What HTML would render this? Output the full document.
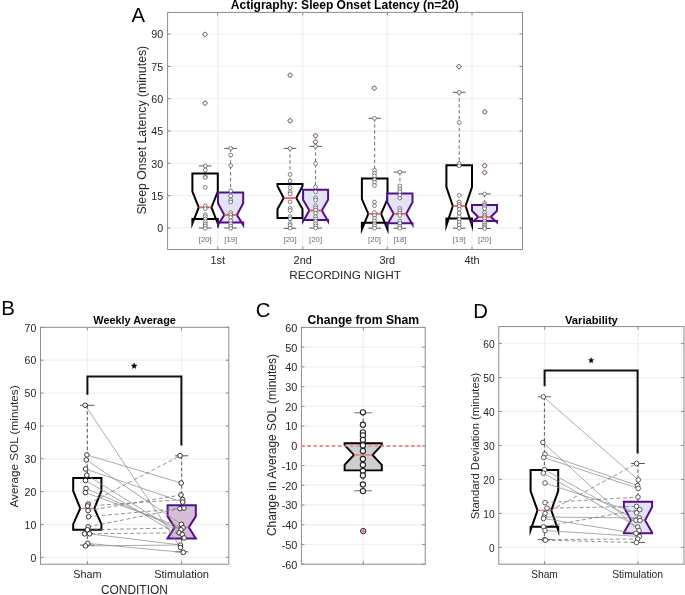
<!DOCTYPE html>
<html><head><meta charset="utf-8"><style>
html,body{margin:0;padding:0;background:#fff;}
body{width:685px;height:595px;overflow:hidden;}
svg{display:block;filter:blur(0.3px);}
text{font-family:"Liberation Sans", sans-serif;}
</style></head><body>
<svg width="685" height="595" viewBox="0 0 685 595" font-family='"Liberation Sans", sans-serif'>
<rect width="685" height="595" fill="#fff"/>
<line x1="167.6" y1="227.95" x2="522.5" y2="227.95" stroke="#f1f1f1" stroke-width="1.3" />
<line x1="167.6" y1="195.63" x2="522.5" y2="195.63" stroke="#f1f1f1" stroke-width="1.3" />
<line x1="167.6" y1="163.31" x2="522.5" y2="163.31" stroke="#f1f1f1" stroke-width="1.3" />
<line x1="167.6" y1="131" x2="522.5" y2="131" stroke="#f1f1f1" stroke-width="1.3" />
<line x1="167.6" y1="98.68" x2="522.5" y2="98.68" stroke="#f1f1f1" stroke-width="1.3" />
<line x1="167.6" y1="66.36" x2="522.5" y2="66.36" stroke="#f1f1f1" stroke-width="1.3" />
<line x1="167.6" y1="34.04" x2="522.5" y2="34.04" stroke="#f1f1f1" stroke-width="1.3" />
<line x1="217.7" y1="12.4" x2="217.7" y2="249.5" stroke="#f1f1f1" stroke-width="1.3" />
<line x1="302.7" y1="12.4" x2="302.7" y2="249.5" stroke="#f1f1f1" stroke-width="1.3" />
<line x1="387.3" y1="12.4" x2="387.3" y2="249.5" stroke="#f1f1f1" stroke-width="1.3" />
<line x1="472" y1="12.4" x2="472" y2="249.5" stroke="#f1f1f1" stroke-width="1.3" />
<line x1="167.6" y1="227.95" x2="170.6" y2="227.95" stroke="#8c8c8c" stroke-width="1" />
<line x1="522.5" y1="227.95" x2="519.5" y2="227.95" stroke="#8c8c8c" stroke-width="1" />
<line x1="167.6" y1="195.63" x2="170.6" y2="195.63" stroke="#8c8c8c" stroke-width="1" />
<line x1="522.5" y1="195.63" x2="519.5" y2="195.63" stroke="#8c8c8c" stroke-width="1" />
<line x1="167.6" y1="163.31" x2="170.6" y2="163.31" stroke="#8c8c8c" stroke-width="1" />
<line x1="522.5" y1="163.31" x2="519.5" y2="163.31" stroke="#8c8c8c" stroke-width="1" />
<line x1="167.6" y1="131" x2="170.6" y2="131" stroke="#8c8c8c" stroke-width="1" />
<line x1="522.5" y1="131" x2="519.5" y2="131" stroke="#8c8c8c" stroke-width="1" />
<line x1="167.6" y1="98.68" x2="170.6" y2="98.68" stroke="#8c8c8c" stroke-width="1" />
<line x1="522.5" y1="98.68" x2="519.5" y2="98.68" stroke="#8c8c8c" stroke-width="1" />
<line x1="167.6" y1="66.36" x2="170.6" y2="66.36" stroke="#8c8c8c" stroke-width="1" />
<line x1="522.5" y1="66.36" x2="519.5" y2="66.36" stroke="#8c8c8c" stroke-width="1" />
<line x1="167.6" y1="34.04" x2="170.6" y2="34.04" stroke="#8c8c8c" stroke-width="1" />
<line x1="522.5" y1="34.04" x2="519.5" y2="34.04" stroke="#8c8c8c" stroke-width="1" />
<line x1="217.7" y1="249.5" x2="217.7" y2="246.5" stroke="#8c8c8c" stroke-width="1" />
<line x1="217.7" y1="12.4" x2="217.7" y2="15.4" stroke="#8c8c8c" stroke-width="1" />
<line x1="302.7" y1="249.5" x2="302.7" y2="246.5" stroke="#8c8c8c" stroke-width="1" />
<line x1="302.7" y1="12.4" x2="302.7" y2="15.4" stroke="#8c8c8c" stroke-width="1" />
<line x1="387.3" y1="249.5" x2="387.3" y2="246.5" stroke="#8c8c8c" stroke-width="1" />
<line x1="387.3" y1="12.4" x2="387.3" y2="15.4" stroke="#8c8c8c" stroke-width="1" />
<line x1="472" y1="249.5" x2="472" y2="246.5" stroke="#8c8c8c" stroke-width="1" />
<line x1="472" y1="12.4" x2="472" y2="15.4" stroke="#8c8c8c" stroke-width="1" />
<rect x="167.6" y="12.4" width="354.9" height="237.1" fill="none" stroke="#8c8c8c" stroke-width="1"/>
<text x="163.2" y="232.25" font-size="10.7" text-anchor="end" font-weight="normal" fill="#262626">0</text>
<text x="163.2" y="199.93" font-size="10.7" text-anchor="end" font-weight="normal" fill="#262626">15</text>
<text x="163.2" y="167.62" font-size="10.7" text-anchor="end" font-weight="normal" fill="#262626">30</text>
<text x="163.2" y="135.3" font-size="10.7" text-anchor="end" font-weight="normal" fill="#262626">45</text>
<text x="163.2" y="102.98" font-size="10.7" text-anchor="end" font-weight="normal" fill="#262626">60</text>
<text x="163.2" y="70.66" font-size="10.7" text-anchor="end" font-weight="normal" fill="#262626">75</text>
<text x="163.2" y="38.34" font-size="10.7" text-anchor="end" font-weight="normal" fill="#262626">90</text>
<line x1="205.1" y1="165.9" x2="205.1" y2="173.6" stroke="#606060" stroke-width="0.9" stroke-dasharray="3.5 2.4" />
<line x1="205.1" y1="219.1" x2="205.1" y2="228" stroke="#606060" stroke-width="0.9" stroke-dasharray="3.5 2.4" />
<line x1="198.8" y1="165.9" x2="211.4" y2="165.9" stroke="#5a5a5a" stroke-width="1" />
<line x1="198.8" y1="228" x2="211.4" y2="228" stroke="#5a5a5a" stroke-width="1" />
<path d="M192.4,219.1 L192.4,223.5 L198.75,207.4 L192.4,191.6 L192.4,173.6 L217.8,173.6 L217.8,191.6 L211.45,207.4 L217.8,223.5 L217.8,219.1 Z" fill="none" stroke="#000" stroke-width="2" stroke-linejoin="miter" stroke-miterlimit="10"/>
<line x1="198.75" y1="207.4" x2="211.45" y2="207.4" stroke="#ee5555" stroke-width="1.7" />
<line x1="290" y1="148.4" x2="290" y2="183.9" stroke="#606060" stroke-width="0.9" stroke-dasharray="3.5 2.4" />
<line x1="290" y1="217.9" x2="290" y2="228.3" stroke="#606060" stroke-width="0.9" stroke-dasharray="3.5 2.4" />
<line x1="283.7" y1="148.4" x2="296.3" y2="148.4" stroke="#5a5a5a" stroke-width="1" />
<line x1="283.7" y1="228.3" x2="296.3" y2="228.3" stroke="#5a5a5a" stroke-width="1" />
<path d="M277.5,217.9 L277.5,209.1 L283.75,198.1 L277.5,186.3 L277.5,183.9 L302.5,183.9 L302.5,186.3 L296.25,198.1 L302.5,209.1 L302.5,217.9 Z" fill="none" stroke="#000" stroke-width="2" stroke-linejoin="miter" stroke-miterlimit="10"/>
<line x1="283.75" y1="198.1" x2="296.25" y2="198.1" stroke="#ee5555" stroke-width="1.7" />
<line x1="374.7" y1="118.3" x2="374.7" y2="178.4" stroke="#606060" stroke-width="0.9" stroke-dasharray="3.5 2.4" />
<line x1="374.7" y1="222.8" x2="374.7" y2="228.2" stroke="#606060" stroke-width="0.9" stroke-dasharray="3.5 2.4" />
<line x1="368.4" y1="118.3" x2="381" y2="118.3" stroke="#5a5a5a" stroke-width="1" />
<line x1="368.4" y1="228.2" x2="381" y2="228.2" stroke="#5a5a5a" stroke-width="1" />
<path d="M361.9,222.8 L361.9,229.5 L368.3,213.8 L361.9,199.1 L361.9,178.4 L387.5,178.4 L387.5,199.1 L381.1,213.8 L387.5,229.5 L387.5,222.8 Z" fill="none" stroke="#000" stroke-width="2" stroke-linejoin="miter" stroke-miterlimit="10"/>
<line x1="368.3" y1="213.8" x2="381.1" y2="213.8" stroke="#ee5555" stroke-width="1.7" />
<line x1="459.2" y1="92.3" x2="459.2" y2="165.3" stroke="#606060" stroke-width="0.9" stroke-dasharray="3.5 2.4" />
<line x1="459.2" y1="218.6" x2="459.2" y2="228.2" stroke="#606060" stroke-width="0.9" stroke-dasharray="3.5 2.4" />
<line x1="452.9" y1="92.3" x2="465.5" y2="92.3" stroke="#5a5a5a" stroke-width="1" />
<line x1="452.9" y1="228.2" x2="465.5" y2="228.2" stroke="#5a5a5a" stroke-width="1" />
<path d="M446.4,218.6 L446.4,225.5 L452.8,206 L446.4,187.1 L446.4,165.3 L472,165.3 L472,187.1 L465.6,206 L472,225.5 L472,218.6 Z" fill="none" stroke="#000" stroke-width="2" stroke-linejoin="miter" stroke-miterlimit="10"/>
<line x1="452.8" y1="206" x2="465.6" y2="206" stroke="#ee5555" stroke-width="1.7" />
<line x1="230.6" y1="148.4" x2="230.6" y2="192.6" stroke="#606060" stroke-width="0.9" stroke-dasharray="3.5 2.4" />
<line x1="230.6" y1="222.6" x2="230.6" y2="228" stroke="#606060" stroke-width="0.9" stroke-dasharray="3.5 2.4" />
<line x1="224.3" y1="148.4" x2="236.9" y2="148.4" stroke="#5a5a5a" stroke-width="1" />
<line x1="224.3" y1="228" x2="236.9" y2="228" stroke="#5a5a5a" stroke-width="1" />
<path d="M218,222.6 L218,225 L224.3,214.9 L218,203.3 L218,192.6 L243.2,192.6 L243.2,203.3 L236.9,214.9 L243.2,225 L243.2,222.6 Z" fill="#e4e4f8" stroke="#540f88" stroke-width="2" stroke-linejoin="miter" stroke-miterlimit="10"/>
<line x1="224.3" y1="214.9" x2="236.9" y2="214.9" stroke="#ee5555" stroke-width="1.7" />
<line x1="315.6" y1="146.4" x2="315.6" y2="189.7" stroke="#606060" stroke-width="0.9" stroke-dasharray="3.5 2.4" />
<line x1="315.6" y1="220" x2="315.6" y2="228.1" stroke="#606060" stroke-width="0.9" stroke-dasharray="3.5 2.4" />
<line x1="309.3" y1="146.4" x2="321.9" y2="146.4" stroke="#5a5a5a" stroke-width="1" />
<line x1="309.3" y1="228.1" x2="321.9" y2="228.1" stroke="#5a5a5a" stroke-width="1" />
<path d="M303.1,220 L303.1,221.2 L309.35,210.5 L303.1,199.8 L303.1,189.7 L328.1,189.7 L328.1,199.8 L321.85,210.5 L328.1,221.2 L328.1,220 Z" fill="#e4e4f8" stroke="#540f88" stroke-width="2" stroke-linejoin="miter" stroke-miterlimit="10"/>
<line x1="309.35" y1="210.5" x2="321.85" y2="210.5" stroke="#ee5555" stroke-width="1.7" />
<line x1="399.9" y1="172.1" x2="399.9" y2="193.5" stroke="#606060" stroke-width="0.9" stroke-dasharray="3.5 2.4" />
<line x1="399.9" y1="223.3" x2="399.9" y2="228.3" stroke="#606060" stroke-width="0.9" stroke-dasharray="3.5 2.4" />
<line x1="393.6" y1="172.1" x2="406.2" y2="172.1" stroke="#5a5a5a" stroke-width="1" />
<line x1="393.6" y1="228.3" x2="406.2" y2="228.3" stroke="#5a5a5a" stroke-width="1" />
<path d="M387.3,223.3 L387.3,224.6 L393.6,213.8 L387.3,202.3 L387.3,193.5 L412.5,193.5 L412.5,202.3 L406.2,213.8 L412.5,224.6 L412.5,223.3 Z" fill="#e4e4f8" stroke="#540f88" stroke-width="2" stroke-linejoin="miter" stroke-miterlimit="10"/>
<line x1="393.6" y1="213.8" x2="406.2" y2="213.8" stroke="#ee5555" stroke-width="1.7" />
<line x1="484.5" y1="193.9" x2="484.5" y2="205" stroke="#606060" stroke-width="0.9" stroke-dasharray="3.5 2.4" />
<line x1="484.5" y1="221.05" x2="484.5" y2="228.5" stroke="#606060" stroke-width="0.9" stroke-dasharray="3.5 2.4" />
<line x1="478.2" y1="193.9" x2="490.8" y2="193.9" stroke="#5a5a5a" stroke-width="1" />
<line x1="478.2" y1="228.5" x2="490.8" y2="228.5" stroke="#5a5a5a" stroke-width="1" />
<path d="M472,221.05 L472,222.3 L478.25,217 L472,210.8 L472,205 L497,205 L497,210.8 L490.75,217 L497,222.3 L497,221.05 Z" fill="#e4e4f8" stroke="#540f88" stroke-width="2" stroke-linejoin="miter" stroke-miterlimit="10"/>
<line x1="478.25" y1="217" x2="490.75" y2="217" stroke="#ee5555" stroke-width="1.7" />
<circle cx="205.3" cy="165.9" r="1.9" fill="#fff" stroke="#555" stroke-width="0.75"/>
<circle cx="205.3" cy="170" r="1.9" fill="#fff" stroke="#555" stroke-width="0.75"/>
<circle cx="205.3" cy="176.6" r="1.9" fill="#fff" stroke="#555" stroke-width="0.75"/>
<circle cx="205.3" cy="177.5" r="1.9" fill="#fff" stroke="#555" stroke-width="0.75"/>
<circle cx="205.3" cy="187.4" r="1.9" fill="#fff" stroke="#555" stroke-width="0.75"/>
<circle cx="205.3" cy="205.9" r="1.9" fill="#fff" stroke="#555" stroke-width="0.75"/>
<circle cx="205.3" cy="208.7" r="1.9" fill="#fff" stroke="#555" stroke-width="0.75"/>
<circle cx="205.3" cy="214.6" r="1.9" fill="#fff" stroke="#555" stroke-width="0.75"/>
<circle cx="205.3" cy="216.6" r="1.9" fill="#fff" stroke="#555" stroke-width="0.75"/>
<circle cx="205.3" cy="218.9" r="1.9" fill="#fff" stroke="#555" stroke-width="0.75"/>
<circle cx="205.3" cy="221.7" r="1.9" fill="#fff" stroke="#555" stroke-width="0.75"/>
<circle cx="205.3" cy="224.1" r="1.9" fill="#fff" stroke="#555" stroke-width="0.75"/>
<circle cx="205.3" cy="226" r="1.9" fill="#fff" stroke="#555" stroke-width="0.75"/>
<circle cx="205.3" cy="228.3" r="1.9" fill="#fff" stroke="#555" stroke-width="0.75"/>
<circle cx="230.7" cy="148.4" r="1.9" fill="#fff" stroke="#555" stroke-width="0.75"/>
<circle cx="230.7" cy="155.1" r="1.9" fill="#fff" stroke="#555" stroke-width="0.75"/>
<circle cx="230.7" cy="165.6" r="1.9" fill="#fff" stroke="#555" stroke-width="0.75"/>
<circle cx="230.7" cy="190.9" r="1.9" fill="#fff" stroke="#555" stroke-width="0.75"/>
<circle cx="230.7" cy="196" r="1.9" fill="#fff" stroke="#555" stroke-width="0.75"/>
<circle cx="230.7" cy="200" r="1.9" fill="#fff" stroke="#555" stroke-width="0.75"/>
<circle cx="230.7" cy="202" r="1.9" fill="#fff" stroke="#555" stroke-width="0.75"/>
<circle cx="230.7" cy="212.6" r="1.9" fill="#fff" stroke="#555" stroke-width="0.75"/>
<circle cx="230.7" cy="214.8" r="1.9" fill="#fff" stroke="#555" stroke-width="0.75"/>
<circle cx="230.7" cy="217.4" r="1.9" fill="#fff" stroke="#555" stroke-width="0.75"/>
<circle cx="230.7" cy="220.9" r="1.9" fill="#fff" stroke="#555" stroke-width="0.75"/>
<circle cx="230.7" cy="223.7" r="1.9" fill="#fff" stroke="#555" stroke-width="0.75"/>
<circle cx="230.7" cy="226" r="1.9" fill="#fff" stroke="#555" stroke-width="0.75"/>
<circle cx="230.7" cy="228.3" r="1.9" fill="#fff" stroke="#555" stroke-width="0.75"/>
<circle cx="290.1" cy="148.4" r="1.9" fill="#fff" stroke="#555" stroke-width="0.75"/>
<circle cx="290.1" cy="174.5" r="1.9" fill="#fff" stroke="#555" stroke-width="0.75"/>
<circle cx="290.1" cy="181" r="1.9" fill="#fff" stroke="#555" stroke-width="0.75"/>
<circle cx="290.1" cy="187.6" r="1.9" fill="#fff" stroke="#555" stroke-width="0.75"/>
<circle cx="290.1" cy="191.8" r="1.9" fill="#fff" stroke="#555" stroke-width="0.75"/>
<circle cx="290.1" cy="193.9" r="1.9" fill="#fff" stroke="#555" stroke-width="0.75"/>
<circle cx="290.1" cy="201.9" r="1.9" fill="#fff" stroke="#555" stroke-width="0.75"/>
<circle cx="290.1" cy="208.4" r="1.9" fill="#fff" stroke="#555" stroke-width="0.75"/>
<circle cx="290.1" cy="210.4" r="1.9" fill="#fff" stroke="#555" stroke-width="0.75"/>
<circle cx="290.1" cy="216.6" r="1.9" fill="#fff" stroke="#555" stroke-width="0.75"/>
<circle cx="290.1" cy="218.8" r="1.9" fill="#fff" stroke="#555" stroke-width="0.75"/>
<circle cx="290.1" cy="223.6" r="1.9" fill="#fff" stroke="#555" stroke-width="0.75"/>
<circle cx="290.1" cy="225.4" r="1.9" fill="#fff" stroke="#555" stroke-width="0.75"/>
<circle cx="290.1" cy="228.1" r="1.9" fill="#fff" stroke="#555" stroke-width="0.75"/>
<circle cx="315.6" cy="146.4" r="1.9" fill="#fff" stroke="#555" stroke-width="0.75"/>
<circle cx="315.6" cy="163.6" r="1.9" fill="#fff" stroke="#555" stroke-width="0.75"/>
<circle cx="315.6" cy="187" r="1.9" fill="#fff" stroke="#555" stroke-width="0.75"/>
<circle cx="315.6" cy="191.8" r="1.9" fill="#fff" stroke="#555" stroke-width="0.75"/>
<circle cx="315.6" cy="197.9" r="1.9" fill="#fff" stroke="#555" stroke-width="0.75"/>
<circle cx="315.6" cy="200.1" r="1.9" fill="#fff" stroke="#555" stroke-width="0.75"/>
<circle cx="315.6" cy="205.8" r="1.9" fill="#fff" stroke="#555" stroke-width="0.75"/>
<circle cx="315.6" cy="208" r="1.9" fill="#fff" stroke="#555" stroke-width="0.75"/>
<circle cx="315.6" cy="210.2" r="1.9" fill="#fff" stroke="#555" stroke-width="0.75"/>
<circle cx="315.6" cy="213.2" r="1.9" fill="#fff" stroke="#555" stroke-width="0.75"/>
<circle cx="315.6" cy="216.7" r="1.9" fill="#fff" stroke="#555" stroke-width="0.75"/>
<circle cx="315.6" cy="218.9" r="1.9" fill="#fff" stroke="#555" stroke-width="0.75"/>
<circle cx="315.6" cy="221.1" r="1.9" fill="#fff" stroke="#555" stroke-width="0.75"/>
<circle cx="315.6" cy="223.7" r="1.9" fill="#fff" stroke="#555" stroke-width="0.75"/>
<circle cx="315.6" cy="225.9" r="1.9" fill="#fff" stroke="#555" stroke-width="0.75"/>
<circle cx="315.6" cy="228.1" r="1.9" fill="#fff" stroke="#555" stroke-width="0.75"/>
<circle cx="374.5" cy="118.3" r="1.9" fill="#fff" stroke="#555" stroke-width="0.75"/>
<circle cx="374.5" cy="170.4" r="1.9" fill="#fff" stroke="#555" stroke-width="0.75"/>
<circle cx="374.5" cy="173.1" r="1.9" fill="#fff" stroke="#555" stroke-width="0.75"/>
<circle cx="374.5" cy="175.9" r="1.9" fill="#fff" stroke="#555" stroke-width="0.75"/>
<circle cx="374.5" cy="179.6" r="1.9" fill="#fff" stroke="#555" stroke-width="0.75"/>
<circle cx="374.5" cy="182.3" r="1.9" fill="#fff" stroke="#555" stroke-width="0.75"/>
<circle cx="374.5" cy="185.5" r="1.9" fill="#fff" stroke="#555" stroke-width="0.75"/>
<circle cx="374.5" cy="202" r="1.9" fill="#fff" stroke="#555" stroke-width="0.75"/>
<circle cx="374.5" cy="205.7" r="1.9" fill="#fff" stroke="#555" stroke-width="0.75"/>
<circle cx="374.5" cy="212.6" r="1.9" fill="#fff" stroke="#555" stroke-width="0.75"/>
<circle cx="374.5" cy="215.4" r="1.9" fill="#fff" stroke="#555" stroke-width="0.75"/>
<circle cx="374.5" cy="218.1" r="1.9" fill="#fff" stroke="#555" stroke-width="0.75"/>
<circle cx="374.5" cy="220.9" r="1.9" fill="#fff" stroke="#555" stroke-width="0.75"/>
<circle cx="374.5" cy="223.6" r="1.9" fill="#fff" stroke="#555" stroke-width="0.75"/>
<circle cx="374.5" cy="225.7" r="1.9" fill="#fff" stroke="#555" stroke-width="0.75"/>
<circle cx="374.5" cy="228.2" r="1.9" fill="#fff" stroke="#555" stroke-width="0.75"/>
<circle cx="399.8" cy="172.1" r="1.9" fill="#fff" stroke="#555" stroke-width="0.75"/>
<circle cx="399.8" cy="186" r="1.9" fill="#fff" stroke="#555" stroke-width="0.75"/>
<circle cx="399.8" cy="189" r="1.9" fill="#fff" stroke="#555" stroke-width="0.75"/>
<circle cx="399.8" cy="191.7" r="1.9" fill="#fff" stroke="#555" stroke-width="0.75"/>
<circle cx="399.8" cy="195.1" r="1.9" fill="#fff" stroke="#555" stroke-width="0.75"/>
<circle cx="399.8" cy="198.1" r="1.9" fill="#fff" stroke="#555" stroke-width="0.75"/>
<circle cx="399.8" cy="208.4" r="1.9" fill="#fff" stroke="#555" stroke-width="0.75"/>
<circle cx="399.8" cy="210.8" r="1.9" fill="#fff" stroke="#555" stroke-width="0.75"/>
<circle cx="399.8" cy="213.2" r="1.9" fill="#fff" stroke="#555" stroke-width="0.75"/>
<circle cx="399.8" cy="215.4" r="1.9" fill="#fff" stroke="#555" stroke-width="0.75"/>
<circle cx="399.8" cy="221.1" r="1.9" fill="#fff" stroke="#555" stroke-width="0.75"/>
<circle cx="399.8" cy="223.5" r="1.9" fill="#fff" stroke="#555" stroke-width="0.75"/>
<circle cx="399.8" cy="226.3" r="1.9" fill="#fff" stroke="#555" stroke-width="0.75"/>
<circle cx="399.8" cy="228.3" r="1.9" fill="#fff" stroke="#555" stroke-width="0.75"/>
<circle cx="459.2" cy="92.3" r="1.9" fill="#fff" stroke="#555" stroke-width="0.75"/>
<circle cx="459.2" cy="122.5" r="1.9" fill="#fff" stroke="#555" stroke-width="0.75"/>
<circle cx="459.2" cy="163.5" r="1.9" fill="#fff" stroke="#555" stroke-width="0.75"/>
<circle cx="459.2" cy="165.8" r="1.9" fill="#fff" stroke="#555" stroke-width="0.75"/>
<circle cx="459.2" cy="195.4" r="1.9" fill="#fff" stroke="#555" stroke-width="0.75"/>
<circle cx="459.2" cy="202" r="1.9" fill="#fff" stroke="#555" stroke-width="0.75"/>
<circle cx="459.2" cy="204.4" r="1.9" fill="#fff" stroke="#555" stroke-width="0.75"/>
<circle cx="459.2" cy="206.4" r="1.9" fill="#fff" stroke="#555" stroke-width="0.75"/>
<circle cx="459.2" cy="209.2" r="1.9" fill="#fff" stroke="#555" stroke-width="0.75"/>
<circle cx="459.2" cy="213" r="1.9" fill="#fff" stroke="#555" stroke-width="0.75"/>
<circle cx="459.2" cy="216.7" r="1.9" fill="#fff" stroke="#555" stroke-width="0.75"/>
<circle cx="459.2" cy="219.5" r="1.9" fill="#fff" stroke="#555" stroke-width="0.75"/>
<circle cx="459.2" cy="222.2" r="1.9" fill="#fff" stroke="#555" stroke-width="0.75"/>
<circle cx="459.2" cy="225" r="1.9" fill="#fff" stroke="#555" stroke-width="0.75"/>
<circle cx="459.2" cy="228.2" r="1.9" fill="#fff" stroke="#555" stroke-width="0.75"/>
<circle cx="484.6" cy="193.9" r="1.9" fill="#fff" stroke="#555" stroke-width="0.75"/>
<circle cx="484.6" cy="203.4" r="1.9" fill="#fff" stroke="#555" stroke-width="0.75"/>
<circle cx="484.6" cy="205.2" r="1.9" fill="#fff" stroke="#555" stroke-width="0.75"/>
<circle cx="484.6" cy="206.9" r="1.9" fill="#fff" stroke="#555" stroke-width="0.75"/>
<circle cx="484.6" cy="208.7" r="1.9" fill="#fff" stroke="#555" stroke-width="0.75"/>
<circle cx="484.6" cy="212.6" r="1.9" fill="#fff" stroke="#555" stroke-width="0.75"/>
<circle cx="484.6" cy="215.1" r="1.9" fill="#fff" stroke="#555" stroke-width="0.75"/>
<circle cx="484.6" cy="216.8" r="1.9" fill="#fff" stroke="#555" stroke-width="0.75"/>
<circle cx="484.6" cy="218.6" r="1.9" fill="#fff" stroke="#555" stroke-width="0.75"/>
<circle cx="484.6" cy="221.1" r="1.9" fill="#fff" stroke="#555" stroke-width="0.75"/>
<circle cx="484.6" cy="223.2" r="1.9" fill="#fff" stroke="#555" stroke-width="0.75"/>
<circle cx="484.6" cy="225.3" r="1.9" fill="#fff" stroke="#555" stroke-width="0.75"/>
<circle cx="484.6" cy="227" r="1.9" fill="#fff" stroke="#555" stroke-width="0.75"/>
<circle cx="484.6" cy="228.5" r="1.9" fill="#fff" stroke="#555" stroke-width="0.75"/>
<line x1="202.3" y1="34.4" x2="207.9" y2="34.4" stroke="#e03030" stroke-width="0.8" />
<line x1="205.1" y1="31.6" x2="205.1" y2="37.2" stroke="#e03030" stroke-width="0.8" />
<circle cx="205.1" cy="34.4" r="2.0" fill="#fff" stroke="#505050" stroke-width="0.8"/>
<line x1="202.3" y1="103.2" x2="207.9" y2="103.2" stroke="#e03030" stroke-width="0.8" />
<line x1="205.1" y1="100.4" x2="205.1" y2="106" stroke="#e03030" stroke-width="0.8" />
<circle cx="205.1" cy="103.2" r="2.0" fill="#fff" stroke="#505050" stroke-width="0.8"/>
<line x1="287.3" y1="75.2" x2="292.9" y2="75.2" stroke="#e03030" stroke-width="0.8" />
<line x1="290.1" y1="72.4" x2="290.1" y2="78" stroke="#e03030" stroke-width="0.8" />
<circle cx="290.1" cy="75.2" r="2.0" fill="#fff" stroke="#505050" stroke-width="0.8"/>
<line x1="287.3" y1="120.7" x2="292.9" y2="120.7" stroke="#e03030" stroke-width="0.8" />
<line x1="290.1" y1="117.9" x2="290.1" y2="123.5" stroke="#e03030" stroke-width="0.8" />
<circle cx="290.1" cy="120.7" r="2.0" fill="#fff" stroke="#505050" stroke-width="0.8"/>
<line x1="312.7" y1="135.7" x2="318.3" y2="135.7" stroke="#e03030" stroke-width="0.8" />
<line x1="315.5" y1="132.9" x2="315.5" y2="138.5" stroke="#e03030" stroke-width="0.8" />
<circle cx="315.5" cy="135.7" r="2.0" fill="#fff" stroke="#505050" stroke-width="0.8"/>
<line x1="312.7" y1="141.8" x2="318.3" y2="141.8" stroke="#e03030" stroke-width="0.8" />
<line x1="315.5" y1="139" x2="315.5" y2="144.6" stroke="#e03030" stroke-width="0.8" />
<circle cx="315.5" cy="141.8" r="2.0" fill="#fff" stroke="#505050" stroke-width="0.8"/>
<line x1="371.5" y1="88.1" x2="377.1" y2="88.1" stroke="#e03030" stroke-width="0.8" />
<line x1="374.3" y1="85.3" x2="374.3" y2="90.9" stroke="#e03030" stroke-width="0.8" />
<circle cx="374.3" cy="88.1" r="2.0" fill="#fff" stroke="#505050" stroke-width="0.8"/>
<line x1="456.2" y1="66.6" x2="461.8" y2="66.6" stroke="#e03030" stroke-width="0.8" />
<line x1="459" y1="63.8" x2="459" y2="69.4" stroke="#e03030" stroke-width="0.8" />
<circle cx="459" cy="66.6" r="2.0" fill="#fff" stroke="#505050" stroke-width="0.8"/>
<line x1="481.9" y1="111.8" x2="487.5" y2="111.8" stroke="#e03030" stroke-width="0.8" />
<line x1="484.7" y1="109" x2="484.7" y2="114.6" stroke="#e03030" stroke-width="0.8" />
<circle cx="484.7" cy="111.8" r="2.0" fill="#fff" stroke="#505050" stroke-width="0.8"/>
<line x1="481.9" y1="165.7" x2="487.5" y2="165.7" stroke="#e03030" stroke-width="0.8" />
<line x1="484.7" y1="162.9" x2="484.7" y2="168.5" stroke="#e03030" stroke-width="0.8" />
<circle cx="484.7" cy="165.7" r="2.0" fill="#fff" stroke="#505050" stroke-width="0.8"/>
<line x1="481.9" y1="172.5" x2="487.5" y2="172.5" stroke="#e03030" stroke-width="0.8" />
<line x1="484.7" y1="169.7" x2="484.7" y2="175.3" stroke="#e03030" stroke-width="0.8" />
<circle cx="484.7" cy="172.5" r="2.0" fill="#fff" stroke="#505050" stroke-width="0.8"/>
<text x="205.3" y="241.8" font-size="7.8" text-anchor="middle" font-weight="normal" fill="#6a6a6a">[20]</text>
<text x="230.8" y="241.8" font-size="7.8" text-anchor="middle" font-weight="normal" fill="#6a6a6a">[19]</text>
<text x="290.1" y="241.8" font-size="7.8" text-anchor="middle" font-weight="normal" fill="#6a6a6a">[20]</text>
<text x="315.6" y="241.8" font-size="7.8" text-anchor="middle" font-weight="normal" fill="#6a6a6a">[20]</text>
<text x="374.5" y="241.8" font-size="7.8" text-anchor="middle" font-weight="normal" fill="#6a6a6a">[20]</text>
<text x="399.9" y="241.8" font-size="7.8" text-anchor="middle" font-weight="normal" fill="#6a6a6a">[18]</text>
<text x="459.2" y="241.8" font-size="7.8" text-anchor="middle" font-weight="normal" fill="#6a6a6a">[19]</text>
<text x="484.6" y="241.8" font-size="7.8" text-anchor="middle" font-weight="normal" fill="#6a6a6a">[20]</text>
<text x="217.7" y="263.6" font-size="10.9" text-anchor="middle" font-weight="normal" fill="#262626">1st</text>
<text x="302.7" y="263.6" font-size="10.9" text-anchor="middle" font-weight="normal" fill="#262626">2nd</text>
<text x="387.3" y="263.6" font-size="10.9" text-anchor="middle" font-weight="normal" fill="#262626">3rd</text>
<text x="472" y="263.6" font-size="10.9" text-anchor="middle" font-weight="normal" fill="#262626">4th</text>
<text x="345" y="278.5" font-size="11.75" text-anchor="middle" font-weight="normal" fill="#262626">RECORDING NIGHT</text>
<text x="146.4" y="130.2" font-size="12.3" text-anchor="middle" font-weight="normal" fill="#262626" transform="rotate(-90 146.4 130.2)">Sleep Onset Latency (minutes)</text>
<text x="344.8" y="8.9" font-size="12.05" text-anchor="middle" font-weight="bold" fill="#000">Actigraphy: Sleep Onset Latency (n=20)</text>
<text x="131.6" y="21.5" font-size="20.3" text-anchor="start" font-weight="normal" fill="#000">A</text>
<line x1="40.5" y1="557.35" x2="228.8" y2="557.35" stroke="#f1f1f1" stroke-width="1.3" />
<line x1="40.5" y1="524.49" x2="228.8" y2="524.49" stroke="#f1f1f1" stroke-width="1.3" />
<line x1="40.5" y1="491.63" x2="228.8" y2="491.63" stroke="#f1f1f1" stroke-width="1.3" />
<line x1="40.5" y1="458.77" x2="228.8" y2="458.77" stroke="#f1f1f1" stroke-width="1.3" />
<line x1="40.5" y1="425.91" x2="228.8" y2="425.91" stroke="#f1f1f1" stroke-width="1.3" />
<line x1="40.5" y1="393.05" x2="228.8" y2="393.05" stroke="#f1f1f1" stroke-width="1.3" />
<line x1="40.5" y1="360.19" x2="228.8" y2="360.19" stroke="#f1f1f1" stroke-width="1.3" />
<line x1="87.4" y1="327.3" x2="87.4" y2="564.2" stroke="#f1f1f1" stroke-width="1.3" />
<line x1="181.6" y1="327.3" x2="181.6" y2="564.2" stroke="#f1f1f1" stroke-width="1.3" />
<line x1="40.5" y1="557.35" x2="43.5" y2="557.35" stroke="#8c8c8c" stroke-width="1" />
<line x1="228.8" y1="557.35" x2="225.8" y2="557.35" stroke="#8c8c8c" stroke-width="1" />
<line x1="40.5" y1="524.49" x2="43.5" y2="524.49" stroke="#8c8c8c" stroke-width="1" />
<line x1="228.8" y1="524.49" x2="225.8" y2="524.49" stroke="#8c8c8c" stroke-width="1" />
<line x1="40.5" y1="491.63" x2="43.5" y2="491.63" stroke="#8c8c8c" stroke-width="1" />
<line x1="228.8" y1="491.63" x2="225.8" y2="491.63" stroke="#8c8c8c" stroke-width="1" />
<line x1="40.5" y1="458.77" x2="43.5" y2="458.77" stroke="#8c8c8c" stroke-width="1" />
<line x1="228.8" y1="458.77" x2="225.8" y2="458.77" stroke="#8c8c8c" stroke-width="1" />
<line x1="40.5" y1="425.91" x2="43.5" y2="425.91" stroke="#8c8c8c" stroke-width="1" />
<line x1="228.8" y1="425.91" x2="225.8" y2="425.91" stroke="#8c8c8c" stroke-width="1" />
<line x1="40.5" y1="393.05" x2="43.5" y2="393.05" stroke="#8c8c8c" stroke-width="1" />
<line x1="228.8" y1="393.05" x2="225.8" y2="393.05" stroke="#8c8c8c" stroke-width="1" />
<line x1="40.5" y1="360.19" x2="43.5" y2="360.19" stroke="#8c8c8c" stroke-width="1" />
<line x1="228.8" y1="360.19" x2="225.8" y2="360.19" stroke="#8c8c8c" stroke-width="1" />
<line x1="40.5" y1="327.33" x2="43.5" y2="327.33" stroke="#8c8c8c" stroke-width="1" />
<line x1="228.8" y1="327.33" x2="225.8" y2="327.33" stroke="#8c8c8c" stroke-width="1" />
<line x1="87.4" y1="564.2" x2="87.4" y2="561.2" stroke="#8c8c8c" stroke-width="1" />
<line x1="87.4" y1="327.3" x2="87.4" y2="330.3" stroke="#8c8c8c" stroke-width="1" />
<line x1="181.6" y1="564.2" x2="181.6" y2="561.2" stroke="#8c8c8c" stroke-width="1" />
<line x1="181.6" y1="327.3" x2="181.6" y2="330.3" stroke="#8c8c8c" stroke-width="1" />
<rect x="40.5" y="327.3" width="188.3" height="236.9" fill="none" stroke="#8c8c8c" stroke-width="1"/>
<text x="36.3" y="561.65" font-size="10.5" text-anchor="end" font-weight="normal" fill="#262626">0</text>
<text x="36.3" y="528.79" font-size="10.5" text-anchor="end" font-weight="normal" fill="#262626">10</text>
<text x="36.3" y="495.93" font-size="10.5" text-anchor="end" font-weight="normal" fill="#262626">20</text>
<text x="36.3" y="463.07" font-size="10.5" text-anchor="end" font-weight="normal" fill="#262626">30</text>
<text x="36.3" y="430.21" font-size="10.5" text-anchor="end" font-weight="normal" fill="#262626">40</text>
<text x="36.3" y="397.35" font-size="10.5" text-anchor="end" font-weight="normal" fill="#262626">50</text>
<text x="36.3" y="364.49" font-size="10.5" text-anchor="end" font-weight="normal" fill="#262626">60</text>
<text x="36.3" y="331.63" font-size="10.5" text-anchor="end" font-weight="normal" fill="#262626">70</text>
<line x1="87.3" y1="405.3" x2="87.3" y2="478.1" stroke="#444" stroke-width="0.9" stroke-dasharray="3.5 2.4" />
<line x1="87.3" y1="529.7" x2="87.3" y2="545.1" stroke="#444" stroke-width="0.9" stroke-dasharray="3.5 2.4" />
<line x1="80.1" y1="405.3" x2="94.5" y2="405.3" stroke="#555" stroke-width="1" />
<line x1="80.1" y1="545.1" x2="94.5" y2="545.1" stroke="#555" stroke-width="1" />
<path d="M73.2,529.7 L73.2,524.2 L80.25,508.4 L73.2,491 L73.2,478.1 L101.4,478.1 L101.4,491 L94.35,508.4 L101.4,524.2 L101.4,529.7 Z" fill="none" stroke="#000" stroke-width="2" stroke-linejoin="miter" stroke-miterlimit="10"/>
<line x1="80.25" y1="508.4" x2="94.35" y2="508.4" stroke="#e06060" stroke-width="1" />
<line x1="181.7" y1="455.8" x2="181.7" y2="505.3" stroke="#444" stroke-width="0.9" stroke-dasharray="3.5 2.4" />
<line x1="181.7" y1="538.4" x2="181.7" y2="551.8" stroke="#444" stroke-width="0.9" stroke-dasharray="3.5 2.4" />
<line x1="175.1" y1="455.8" x2="188.3" y2="455.8" stroke="#555" stroke-width="1" />
<line x1="175.1" y1="551.8" x2="188.3" y2="551.8" stroke="#555" stroke-width="1" />
<path d="M167.6,538.4 L167.6,538.4 L174.65,527.3 L167.6,516.4 L167.6,505.3 L195.8,505.3 L195.8,516.4 L188.75,527.3 L195.8,538.4 L195.8,538.4 Z" fill="#d5bfd8" stroke="#540f88" stroke-width="2" stroke-linejoin="miter" stroke-miterlimit="10"/>
<line x1="174.65" y1="527.3" x2="188.75" y2="527.3" stroke="#e06060" stroke-width="1" />
<line x1="85.2" y1="405.3" x2="180.5" y2="547.5" stroke="#8f8f8f" stroke-width="0.75" />
<line x1="86.9" y1="454.9" x2="181.2" y2="483" stroke="#8f8f8f" stroke-width="0.75" />
<line x1="86.3" y1="459.9" x2="181.4" y2="524.3" stroke="#8f8f8f" stroke-width="0.75" />
<line x1="85.6" y1="469" x2="182.7" y2="502.1" stroke="#8f8f8f" stroke-width="0.75" />
<line x1="86.8" y1="475.2" x2="182.2" y2="534.4" stroke="#8f8f8f" stroke-width="0.75" />
<line x1="85.5" y1="480.5" x2="184.2" y2="537.9" stroke="#8f8f8f" stroke-width="0.75" />
<line x1="86" y1="488.5" x2="181" y2="529.8" stroke="#8f8f8f" stroke-width="0.75" />
<line x1="85.4" y1="492.6" x2="183" y2="527.8" stroke="#8f8f8f" stroke-width="0.75" />
<line x1="88.1" y1="504.1" x2="180.1" y2="455.7" stroke="#707070" stroke-width="0.75" stroke-dasharray="4 2.5" />
<line x1="87.5" y1="506" x2="182.7" y2="499.6" stroke="#707070" stroke-width="0.75" stroke-dasharray="4 2.5" />
<line x1="88.1" y1="510.6" x2="181" y2="495" stroke="#707070" stroke-width="0.75" stroke-dasharray="4 2.5" />
<line x1="88.6" y1="516.7" x2="184" y2="508.1" stroke="#707070" stroke-width="0.75" stroke-dasharray="4 2.5" />
<line x1="88.1" y1="526.8" x2="180" y2="508.6" stroke="#707070" stroke-width="0.75" stroke-dasharray="4 2.5" />
<line x1="87.5" y1="529.8" x2="183" y2="527.8" stroke="#707070" stroke-width="0.75" stroke-dasharray="4 2.5" />
<line x1="84.6" y1="533.8" x2="179.2" y2="532.8" stroke="#707070" stroke-width="0.75" stroke-dasharray="4 2.5" />
<line x1="89.6" y1="533.8" x2="180.5" y2="545" stroke="#8f8f8f" stroke-width="0.75" />
<line x1="87.7" y1="543.4" x2="183.3" y2="552.4" stroke="#8f8f8f" stroke-width="0.75" />
<line x1="85.5" y1="545.9" x2="180.5" y2="545" stroke="#8f8f8f" stroke-width="0.75" />
<circle cx="85.2" cy="405.3" r="2.3" fill="#fff" stroke="#222" stroke-width="0.9"/>
<circle cx="86.9" cy="454.9" r="2.3" fill="#fff" stroke="#222" stroke-width="0.9"/>
<circle cx="86.3" cy="459.9" r="2.3" fill="#fff" stroke="#222" stroke-width="0.9"/>
<circle cx="85.6" cy="469" r="2.3" fill="#fff" stroke="#222" stroke-width="0.9"/>
<circle cx="86.8" cy="475.2" r="2.3" fill="#fff" stroke="#222" stroke-width="0.9"/>
<circle cx="85.5" cy="480.5" r="2.3" fill="#fff" stroke="#222" stroke-width="0.9"/>
<circle cx="86" cy="488.5" r="2.3" fill="#fff" stroke="#222" stroke-width="0.9"/>
<circle cx="85.4" cy="492.6" r="2.3" fill="#fff" stroke="#222" stroke-width="0.9"/>
<circle cx="88.1" cy="504.1" r="2.3" fill="#fff" stroke="#222" stroke-width="0.9"/>
<circle cx="87.5" cy="506" r="2.3" fill="#fff" stroke="#222" stroke-width="0.9"/>
<circle cx="88.1" cy="510.6" r="2.3" fill="#fff" stroke="#222" stroke-width="0.9"/>
<circle cx="88.6" cy="516.7" r="2.3" fill="#fff" stroke="#222" stroke-width="0.9"/>
<circle cx="88.1" cy="526.8" r="2.3" fill="#fff" stroke="#222" stroke-width="0.9"/>
<circle cx="87.5" cy="529.8" r="2.3" fill="#fff" stroke="#222" stroke-width="0.9"/>
<circle cx="84.6" cy="533.8" r="2.3" fill="#fff" stroke="#222" stroke-width="0.9"/>
<circle cx="89.6" cy="533.8" r="2.3" fill="#fff" stroke="#222" stroke-width="0.9"/>
<circle cx="87.7" cy="543.4" r="2.3" fill="#fff" stroke="#222" stroke-width="0.9"/>
<circle cx="85.5" cy="545.9" r="2.3" fill="#fff" stroke="#222" stroke-width="0.9"/>
<circle cx="180.1" cy="455.7" r="2.3" fill="#fff" stroke="#222" stroke-width="0.9"/>
<circle cx="181.2" cy="483" r="2.3" fill="#fff" stroke="#222" stroke-width="0.9"/>
<circle cx="181" cy="495" r="2.3" fill="#fff" stroke="#222" stroke-width="0.9"/>
<circle cx="182.7" cy="499.6" r="2.3" fill="#fff" stroke="#222" stroke-width="0.9"/>
<circle cx="182.7" cy="502.1" r="2.3" fill="#fff" stroke="#222" stroke-width="0.9"/>
<circle cx="180" cy="508.6" r="2.3" fill="#fff" stroke="#222" stroke-width="0.9"/>
<circle cx="184" cy="508.1" r="2.3" fill="#fff" stroke="#222" stroke-width="0.9"/>
<circle cx="181.4" cy="524.3" r="2.3" fill="#fff" stroke="#222" stroke-width="0.9"/>
<circle cx="183" cy="527.8" r="2.3" fill="#fff" stroke="#222" stroke-width="0.9"/>
<circle cx="181" cy="529.8" r="2.3" fill="#fff" stroke="#222" stroke-width="0.9"/>
<circle cx="179.2" cy="532.8" r="2.3" fill="#fff" stroke="#222" stroke-width="0.9"/>
<circle cx="182.2" cy="534.4" r="2.3" fill="#fff" stroke="#222" stroke-width="0.9"/>
<circle cx="184.2" cy="537.9" r="2.3" fill="#fff" stroke="#222" stroke-width="0.9"/>
<circle cx="180.5" cy="545" r="2.3" fill="#fff" stroke="#222" stroke-width="0.9"/>
<circle cx="180.5" cy="547.5" r="2.3" fill="#fff" stroke="#222" stroke-width="0.9"/>
<circle cx="183.3" cy="552.4" r="2.3" fill="#fff" stroke="#222" stroke-width="0.9"/>
<path d="M87.4,394.8 L87.4,376.6 L181.4,376.6 L181.4,445.6" fill="none" stroke="#111" stroke-width="2"/>
<path d="M134.15,363 L134.89,364.98 L137,365.07 L135.35,366.39 L135.91,368.43 L134.15,367.26 L132.39,368.43 L132.95,366.39 L131.3,365.07 L133.41,364.98 Z" fill="#000" stroke="#000" stroke-width="0.5" stroke-linejoin="round"/>
<text x="87.4" y="578.1" font-size="10.8" text-anchor="middle" font-weight="normal" fill="#262626">Sham</text>
<text x="181.6" y="578.1" font-size="11.1" text-anchor="middle" font-weight="normal" fill="#262626">Stimulation</text>
<text x="134.4" y="593.5" font-size="11.95" text-anchor="middle" font-weight="normal" fill="#262626">CONDITION</text>
<text x="17.9" y="446.5" font-size="11.75" text-anchor="middle" font-weight="normal" fill="#262626" transform="rotate(-90 17.9 446.5)">Average SOL (minutes)</text>
<text x="134.6" y="323.9" font-size="10.9" text-anchor="middle" font-weight="bold" fill="#000">Weekly Average</text>
<text x="1.2" y="314.6" font-size="20.4" text-anchor="start" font-weight="normal" fill="#000">B</text>
<line x1="301.4" y1="544.47" x2="425.2" y2="544.47" stroke="#f1f1f1" stroke-width="1.3" />
<line x1="301.4" y1="524.73" x2="425.2" y2="524.73" stroke="#f1f1f1" stroke-width="1.3" />
<line x1="301.4" y1="505" x2="425.2" y2="505" stroke="#f1f1f1" stroke-width="1.3" />
<line x1="301.4" y1="485.27" x2="425.2" y2="485.27" stroke="#f1f1f1" stroke-width="1.3" />
<line x1="301.4" y1="465.53" x2="425.2" y2="465.53" stroke="#f1f1f1" stroke-width="1.3" />
<line x1="301.4" y1="445.8" x2="425.2" y2="445.8" stroke="#f1f1f1" stroke-width="1.3" />
<line x1="301.4" y1="426.07" x2="425.2" y2="426.07" stroke="#f1f1f1" stroke-width="1.3" />
<line x1="301.4" y1="406.33" x2="425.2" y2="406.33" stroke="#f1f1f1" stroke-width="1.3" />
<line x1="301.4" y1="386.6" x2="425.2" y2="386.6" stroke="#f1f1f1" stroke-width="1.3" />
<line x1="301.4" y1="366.87" x2="425.2" y2="366.87" stroke="#f1f1f1" stroke-width="1.3" />
<line x1="301.4" y1="347.13" x2="425.2" y2="347.13" stroke="#f1f1f1" stroke-width="1.3" />
<line x1="363.3" y1="327.4" x2="363.3" y2="564.2" stroke="#f1f1f1" stroke-width="1.3" />
<line x1="301.4" y1="564.2" x2="304.4" y2="564.2" stroke="#8c8c8c" stroke-width="1" />
<line x1="425.2" y1="564.2" x2="422.2" y2="564.2" stroke="#8c8c8c" stroke-width="1" />
<line x1="301.4" y1="544.47" x2="304.4" y2="544.47" stroke="#8c8c8c" stroke-width="1" />
<line x1="425.2" y1="544.47" x2="422.2" y2="544.47" stroke="#8c8c8c" stroke-width="1" />
<line x1="301.4" y1="524.73" x2="304.4" y2="524.73" stroke="#8c8c8c" stroke-width="1" />
<line x1="425.2" y1="524.73" x2="422.2" y2="524.73" stroke="#8c8c8c" stroke-width="1" />
<line x1="301.4" y1="505" x2="304.4" y2="505" stroke="#8c8c8c" stroke-width="1" />
<line x1="425.2" y1="505" x2="422.2" y2="505" stroke="#8c8c8c" stroke-width="1" />
<line x1="301.4" y1="485.27" x2="304.4" y2="485.27" stroke="#8c8c8c" stroke-width="1" />
<line x1="425.2" y1="485.27" x2="422.2" y2="485.27" stroke="#8c8c8c" stroke-width="1" />
<line x1="301.4" y1="465.53" x2="304.4" y2="465.53" stroke="#8c8c8c" stroke-width="1" />
<line x1="425.2" y1="465.53" x2="422.2" y2="465.53" stroke="#8c8c8c" stroke-width="1" />
<line x1="301.4" y1="445.8" x2="304.4" y2="445.8" stroke="#8c8c8c" stroke-width="1" />
<line x1="425.2" y1="445.8" x2="422.2" y2="445.8" stroke="#8c8c8c" stroke-width="1" />
<line x1="301.4" y1="426.07" x2="304.4" y2="426.07" stroke="#8c8c8c" stroke-width="1" />
<line x1="425.2" y1="426.07" x2="422.2" y2="426.07" stroke="#8c8c8c" stroke-width="1" />
<line x1="301.4" y1="406.33" x2="304.4" y2="406.33" stroke="#8c8c8c" stroke-width="1" />
<line x1="425.2" y1="406.33" x2="422.2" y2="406.33" stroke="#8c8c8c" stroke-width="1" />
<line x1="301.4" y1="386.6" x2="304.4" y2="386.6" stroke="#8c8c8c" stroke-width="1" />
<line x1="425.2" y1="386.6" x2="422.2" y2="386.6" stroke="#8c8c8c" stroke-width="1" />
<line x1="301.4" y1="366.87" x2="304.4" y2="366.87" stroke="#8c8c8c" stroke-width="1" />
<line x1="425.2" y1="366.87" x2="422.2" y2="366.87" stroke="#8c8c8c" stroke-width="1" />
<line x1="301.4" y1="347.13" x2="304.4" y2="347.13" stroke="#8c8c8c" stroke-width="1" />
<line x1="425.2" y1="347.13" x2="422.2" y2="347.13" stroke="#8c8c8c" stroke-width="1" />
<line x1="301.4" y1="327.4" x2="304.4" y2="327.4" stroke="#8c8c8c" stroke-width="1" />
<line x1="425.2" y1="327.4" x2="422.2" y2="327.4" stroke="#8c8c8c" stroke-width="1" />
<line x1="363.3" y1="564.2" x2="363.3" y2="561.2" stroke="#8c8c8c" stroke-width="1" />
<line x1="363.3" y1="327.4" x2="363.3" y2="330.4" stroke="#8c8c8c" stroke-width="1" />
<rect x="301.4" y="327.4" width="123.8" height="236.8" fill="none" stroke="#8c8c8c" stroke-width="1"/>
<text x="297.4" y="568.6" font-size="10.9" text-anchor="end" font-weight="normal" fill="#262626">-60</text>
<text x="297.4" y="548.87" font-size="10.9" text-anchor="end" font-weight="normal" fill="#262626">-50</text>
<text x="297.4" y="529.13" font-size="10.9" text-anchor="end" font-weight="normal" fill="#262626">-40</text>
<text x="297.4" y="509.4" font-size="10.9" text-anchor="end" font-weight="normal" fill="#262626">-30</text>
<text x="297.4" y="489.67" font-size="10.9" text-anchor="end" font-weight="normal" fill="#262626">-20</text>
<text x="297.4" y="469.93" font-size="10.9" text-anchor="end" font-weight="normal" fill="#262626">-10</text>
<text x="297.4" y="450.2" font-size="10.9" text-anchor="end" font-weight="normal" fill="#262626">0</text>
<text x="297.4" y="430.47" font-size="10.9" text-anchor="end" font-weight="normal" fill="#262626">10</text>
<text x="297.4" y="410.73" font-size="10.9" text-anchor="end" font-weight="normal" fill="#262626">20</text>
<text x="297.4" y="391" font-size="10.9" text-anchor="end" font-weight="normal" fill="#262626">30</text>
<text x="297.4" y="371.27" font-size="10.9" text-anchor="end" font-weight="normal" fill="#262626">40</text>
<text x="297.4" y="351.53" font-size="10.9" text-anchor="end" font-weight="normal" fill="#262626">50</text>
<text x="297.4" y="331.8" font-size="10.9" text-anchor="end" font-weight="normal" fill="#262626">60</text>
<line x1="301.4" y1="446" x2="425.2" y2="446" stroke="#ee8888" stroke-width="1.5" stroke-dasharray="3.3 2.8" />
<line x1="363.2" y1="412.8" x2="363.2" y2="443.2" stroke="#444" stroke-width="0.9" stroke-dasharray="3.5 2.4" />
<line x1="363.2" y1="470.4" x2="363.2" y2="490.8" stroke="#444" stroke-width="0.9" stroke-dasharray="3.5 2.4" />
<line x1="354.2" y1="412.8" x2="372.2" y2="412.8" stroke="#777" stroke-width="1" />
<line x1="354.2" y1="490.8" x2="372.2" y2="490.8" stroke="#777" stroke-width="1" />
<path d="M344.6,470.4 L344.6,464.8 L353.9,454.9 L344.6,445.2 L344.6,443.2 L381.8,443.2 L381.8,445.2 L372.5,454.9 L381.8,464.8 L381.8,470.4 Z" fill="#cecece" stroke="#000" stroke-width="1.9" stroke-linejoin="miter" stroke-miterlimit="10"/>
<line x1="353.9" y1="454.9" x2="372.5" y2="454.9" stroke="#e47070" stroke-width="1.2" />
<line x1="301.4" y1="446" x2="425.2" y2="446" stroke="#ee8888" stroke-width="1.5" stroke-dasharray="3.3 2.8" />
<circle cx="362.9" cy="412.3" r="2.6" fill="#fff" stroke="#222" stroke-width="1.1"/>
<circle cx="362.9" cy="424.7" r="2.6" fill="#fff" stroke="#222" stroke-width="1.1"/>
<circle cx="362.9" cy="432.3" r="2.6" fill="#fff" stroke="#222" stroke-width="1.1"/>
<circle cx="362.9" cy="435.3" r="2.6" fill="#fff" stroke="#222" stroke-width="1.1"/>
<circle cx="362.9" cy="439.8" r="2.6" fill="#fff" stroke="#222" stroke-width="1.1"/>
<circle cx="362.9" cy="445.4" r="2.6" fill="#fff" stroke="#222" stroke-width="1.1"/>
<circle cx="362.9" cy="451" r="2.6" fill="#fff" stroke="#222" stroke-width="1.1"/>
<circle cx="362.9" cy="459" r="2.6" fill="#fff" stroke="#222" stroke-width="1.1"/>
<circle cx="362.9" cy="465" r="2.6" fill="#fff" stroke="#222" stroke-width="1.1"/>
<circle cx="362.9" cy="471" r="2.6" fill="#fff" stroke="#222" stroke-width="1.1"/>
<circle cx="362.9" cy="475.5" r="2.6" fill="#fff" stroke="#222" stroke-width="1.1"/>
<circle cx="362.9" cy="484.5" r="2.6" fill="#fff" stroke="#222" stroke-width="1.1"/>
<circle cx="362.9" cy="491.1" r="2.6" fill="#fff" stroke="#222" stroke-width="1.1"/>
<circle cx="363.2" cy="531.1" r="2.7" fill="#fff" stroke="#222" stroke-width="1"/>
<line x1="361" y1="531.1" x2="365.4" y2="531.1" stroke="#e83030" stroke-width="0.9" />
<line x1="363.2" y1="528.9" x2="363.2" y2="533.3" stroke="#e83030" stroke-width="0.9" />
<text x="363.3" y="323.9" font-size="12.2" text-anchor="middle" font-weight="bold" fill="#000">Change from Sham</text>
<text x="275.6" y="445" font-size="12.0" text-anchor="middle" font-weight="normal" fill="#262626" transform="rotate(-90 275.6 445)">Change in Average SOL (minutes)</text>
<text x="255.8" y="317.4" font-size="20.3" text-anchor="start" font-weight="normal" fill="#000">C</text>
<line x1="498.8" y1="547.35" x2="684" y2="547.35" stroke="#f1f1f1" stroke-width="1.3" />
<line x1="498.8" y1="513.39" x2="684" y2="513.39" stroke="#f1f1f1" stroke-width="1.3" />
<line x1="498.8" y1="479.43" x2="684" y2="479.43" stroke="#f1f1f1" stroke-width="1.3" />
<line x1="498.8" y1="445.47" x2="684" y2="445.47" stroke="#f1f1f1" stroke-width="1.3" />
<line x1="498.8" y1="411.51" x2="684" y2="411.51" stroke="#f1f1f1" stroke-width="1.3" />
<line x1="498.8" y1="377.55" x2="684" y2="377.55" stroke="#f1f1f1" stroke-width="1.3" />
<line x1="498.8" y1="343.59" x2="684" y2="343.59" stroke="#f1f1f1" stroke-width="1.3" />
<line x1="544.6" y1="326.6" x2="544.6" y2="564.2" stroke="#f1f1f1" stroke-width="1.3" />
<line x1="638" y1="326.6" x2="638" y2="564.2" stroke="#f1f1f1" stroke-width="1.3" />
<line x1="498.8" y1="547.35" x2="501.8" y2="547.35" stroke="#8c8c8c" stroke-width="1" />
<line x1="684" y1="547.35" x2="681" y2="547.35" stroke="#8c8c8c" stroke-width="1" />
<line x1="498.8" y1="513.39" x2="501.8" y2="513.39" stroke="#8c8c8c" stroke-width="1" />
<line x1="684" y1="513.39" x2="681" y2="513.39" stroke="#8c8c8c" stroke-width="1" />
<line x1="498.8" y1="479.43" x2="501.8" y2="479.43" stroke="#8c8c8c" stroke-width="1" />
<line x1="684" y1="479.43" x2="681" y2="479.43" stroke="#8c8c8c" stroke-width="1" />
<line x1="498.8" y1="445.47" x2="501.8" y2="445.47" stroke="#8c8c8c" stroke-width="1" />
<line x1="684" y1="445.47" x2="681" y2="445.47" stroke="#8c8c8c" stroke-width="1" />
<line x1="498.8" y1="411.51" x2="501.8" y2="411.51" stroke="#8c8c8c" stroke-width="1" />
<line x1="684" y1="411.51" x2="681" y2="411.51" stroke="#8c8c8c" stroke-width="1" />
<line x1="498.8" y1="377.55" x2="501.8" y2="377.55" stroke="#8c8c8c" stroke-width="1" />
<line x1="684" y1="377.55" x2="681" y2="377.55" stroke="#8c8c8c" stroke-width="1" />
<line x1="498.8" y1="343.59" x2="501.8" y2="343.59" stroke="#8c8c8c" stroke-width="1" />
<line x1="684" y1="343.59" x2="681" y2="343.59" stroke="#8c8c8c" stroke-width="1" />
<line x1="544.6" y1="564.2" x2="544.6" y2="561.2" stroke="#8c8c8c" stroke-width="1" />
<line x1="544.6" y1="326.6" x2="544.6" y2="329.6" stroke="#8c8c8c" stroke-width="1" />
<line x1="638" y1="564.2" x2="638" y2="561.2" stroke="#8c8c8c" stroke-width="1" />
<line x1="638" y1="326.6" x2="638" y2="329.6" stroke="#8c8c8c" stroke-width="1" />
<rect x="498.8" y="326.6" width="185.2" height="237.6" fill="none" stroke="#8c8c8c" stroke-width="1"/>
<text x="494.6" y="552.15" font-size="10.2" text-anchor="end" font-weight="normal" fill="#262626">0</text>
<text x="494.6" y="518.19" font-size="10.2" text-anchor="end" font-weight="normal" fill="#262626">10</text>
<text x="494.6" y="484.23" font-size="10.2" text-anchor="end" font-weight="normal" fill="#262626">20</text>
<text x="494.6" y="450.27" font-size="10.2" text-anchor="end" font-weight="normal" fill="#262626">30</text>
<text x="494.6" y="416.31" font-size="10.2" text-anchor="end" font-weight="normal" fill="#262626">40</text>
<text x="494.6" y="382.35" font-size="10.2" text-anchor="end" font-weight="normal" fill="#262626">50</text>
<text x="494.6" y="348.39" font-size="10.2" text-anchor="end" font-weight="normal" fill="#262626">60</text>
<line x1="544.4" y1="396.8" x2="544.4" y2="470" stroke="#444" stroke-width="0.9" stroke-dasharray="3.5 2.4" />
<line x1="544.4" y1="526.8" x2="544.4" y2="539.6" stroke="#444" stroke-width="0.9" stroke-dasharray="3.5 2.4" />
<line x1="537.6" y1="396.8" x2="551.2" y2="396.8" stroke="#666" stroke-width="1" />
<line x1="537.6" y1="539.6" x2="551.2" y2="539.6" stroke="#666" stroke-width="1" />
<path d="M530.6,526.8 L530.6,530.2 L537.5,510.3 L530.6,491 L530.6,470 L558.2,470 L558.2,491 L551.3,510.3 L558.2,530.2 L558.2,526.8 Z" fill="none" stroke="#000" stroke-width="2" stroke-linejoin="miter" stroke-miterlimit="10"/>
<line x1="537.5" y1="510.3" x2="551.3" y2="510.3" stroke="#e06060" stroke-width="1" />
<line x1="638" y1="463.5" x2="638" y2="501.8" stroke="#444" stroke-width="0.9" stroke-dasharray="3.5 2.4" />
<line x1="638" y1="533.3" x2="638" y2="542.4" stroke="#444" stroke-width="0.9" stroke-dasharray="3.5 2.4" />
<line x1="631.2" y1="463.5" x2="644.8" y2="463.5" stroke="#555" stroke-width="1" />
<line x1="631.2" y1="542.4" x2="644.8" y2="542.4" stroke="#555" stroke-width="1" />
<path d="M623.9,533.3 L623.9,532.5 L630.95,520.2 L623.9,507 L623.9,501.8 L652.1,501.8 L652.1,507 L645.05,520.2 L652.1,532.5 L652.1,533.3 Z" fill="#e4e4f8" stroke="#540f88" stroke-width="2" stroke-linejoin="miter" stroke-miterlimit="10"/>
<line x1="630.95" y1="520.2" x2="645.05" y2="520.2" stroke="#e06060" stroke-width="1" />
<line x1="543.4" y1="396.8" x2="638.3" y2="479.9" stroke="#8f8f8f" stroke-width="0.75" />
<line x1="542.8" y1="442.4" x2="639" y2="530.5" stroke="#8f8f8f" stroke-width="0.75" />
<line x1="545" y1="454.2" x2="637.6" y2="485.6" stroke="#8f8f8f" stroke-width="0.75" />
<line x1="543.7" y1="457.5" x2="638.2" y2="488.4" stroke="#8f8f8f" stroke-width="0.75" />
<line x1="544.5" y1="469.6" x2="636" y2="520.2" stroke="#8f8f8f" stroke-width="0.75" />
<line x1="543.3" y1="473.1" x2="637.7" y2="527" stroke="#8f8f8f" stroke-width="0.75" />
<line x1="545" y1="483" x2="636.6" y2="512.8" stroke="#8f8f8f" stroke-width="0.75" />
<line x1="545" y1="502.7" x2="638" y2="497.1" stroke="#707070" stroke-width="0.75" stroke-dasharray="4 2.5" />
<line x1="547" y1="508.2" x2="636.5" y2="506.4" stroke="#707070" stroke-width="0.75" stroke-dasharray="4 2.5" />
<line x1="545" y1="513.5" x2="636.6" y2="463.5" stroke="#707070" stroke-width="0.75" stroke-dasharray="4 2.5" />
<line x1="544" y1="517" x2="639.3" y2="518" stroke="#8f8f8f" stroke-width="0.75" />
<line x1="543.5" y1="518.5" x2="636" y2="533.3" stroke="#8f8f8f" stroke-width="0.75" />
<line x1="543.5" y1="526.8" x2="639.8" y2="509.6" stroke="#707070" stroke-width="0.75" stroke-dasharray="4 2.5" />
<line x1="545" y1="530.5" x2="639.4" y2="536.5" stroke="#8f8f8f" stroke-width="0.75" />
<line x1="544.5" y1="539.6" x2="637.6" y2="539" stroke="#707070" stroke-width="0.75" stroke-dasharray="4 2.5" />
<line x1="545.5" y1="540.2" x2="636.5" y2="542.5" stroke="#707070" stroke-width="0.75" stroke-dasharray="4 2.5" />
<circle cx="543.4" cy="396.8" r="2.3" fill="#fff" stroke="#333" stroke-width="0.8"/>
<circle cx="542.8" cy="442.4" r="2.3" fill="#fff" stroke="#333" stroke-width="0.8"/>
<circle cx="545" cy="454.2" r="2.3" fill="#fff" stroke="#333" stroke-width="0.8"/>
<circle cx="543.7" cy="457.5" r="2.3" fill="#fff" stroke="#333" stroke-width="0.8"/>
<circle cx="544.5" cy="469.6" r="2.3" fill="#fff" stroke="#333" stroke-width="0.8"/>
<circle cx="543.3" cy="473.1" r="2.3" fill="#fff" stroke="#333" stroke-width="0.8"/>
<circle cx="545" cy="483" r="2.3" fill="#fff" stroke="#333" stroke-width="0.8"/>
<circle cx="545" cy="502.7" r="2.3" fill="#fff" stroke="#333" stroke-width="0.8"/>
<circle cx="547" cy="508.2" r="2.3" fill="#fff" stroke="#333" stroke-width="0.8"/>
<circle cx="545" cy="513.5" r="2.3" fill="#fff" stroke="#333" stroke-width="0.8"/>
<circle cx="544" cy="517" r="2.3" fill="#fff" stroke="#333" stroke-width="0.8"/>
<circle cx="543.5" cy="518.5" r="2.3" fill="#fff" stroke="#333" stroke-width="0.8"/>
<circle cx="543.5" cy="526.8" r="2.3" fill="#fff" stroke="#333" stroke-width="0.8"/>
<circle cx="545" cy="530.5" r="2.3" fill="#fff" stroke="#333" stroke-width="0.8"/>
<circle cx="544.5" cy="539.6" r="2.3" fill="#fff" stroke="#333" stroke-width="0.8"/>
<circle cx="545.5" cy="540.2" r="2.3" fill="#fff" stroke="#333" stroke-width="0.8"/>
<circle cx="636.6" cy="463.5" r="2.3" fill="#fff" stroke="#333" stroke-width="0.8"/>
<circle cx="638.3" cy="479.9" r="2.3" fill="#fff" stroke="#333" stroke-width="0.8"/>
<circle cx="637.6" cy="485.6" r="2.3" fill="#fff" stroke="#333" stroke-width="0.8"/>
<circle cx="638.2" cy="488.4" r="2.3" fill="#fff" stroke="#333" stroke-width="0.8"/>
<circle cx="638" cy="497.1" r="2.3" fill="#fff" stroke="#333" stroke-width="0.8"/>
<circle cx="636.5" cy="506.4" r="2.3" fill="#fff" stroke="#333" stroke-width="0.8"/>
<circle cx="639.8" cy="509.6" r="2.3" fill="#fff" stroke="#333" stroke-width="0.8"/>
<circle cx="636.6" cy="512.8" r="2.3" fill="#fff" stroke="#333" stroke-width="0.8"/>
<circle cx="639.3" cy="518" r="2.3" fill="#fff" stroke="#333" stroke-width="0.8"/>
<circle cx="636" cy="520.2" r="2.3" fill="#fff" stroke="#333" stroke-width="0.8"/>
<circle cx="640" cy="520.5" r="2.3" fill="#fff" stroke="#333" stroke-width="0.8"/>
<circle cx="637.7" cy="527" r="2.3" fill="#fff" stroke="#333" stroke-width="0.8"/>
<circle cx="639" cy="530.5" r="2.3" fill="#fff" stroke="#333" stroke-width="0.8"/>
<circle cx="636" cy="533.3" r="2.3" fill="#fff" stroke="#333" stroke-width="0.8"/>
<circle cx="639.4" cy="536.5" r="2.3" fill="#fff" stroke="#333" stroke-width="0.8"/>
<circle cx="637.6" cy="539" r="2.3" fill="#fff" stroke="#333" stroke-width="0.8"/>
<circle cx="636.5" cy="542.5" r="2.3" fill="#fff" stroke="#333" stroke-width="0.8"/>
<path d="M544.6,386.2 L544.6,370.4 L637.6,370.4 L637.6,453.4" fill="none" stroke="#111" stroke-width="2"/>
<path d="M591.15,357.8 L591.82,359.58 L593.72,359.67 L592.23,360.85 L592.74,362.68 L591.15,361.63 L589.56,362.68 L590.07,360.85 L588.58,359.67 L590.48,359.58 Z" fill="#000" stroke="#000" stroke-width="0.5" stroke-linejoin="round"/>
<text x="544.5" y="578.3" font-size="10.2" text-anchor="middle" font-weight="normal" fill="#262626">Sham</text>
<text x="637.6" y="578.3" font-size="10.3" text-anchor="middle" font-weight="normal" fill="#262626">Stimulation</text>
<text x="479.1" y="446" font-size="11.3" text-anchor="middle" font-weight="normal" fill="#262626" transform="rotate(-90 479.1 446)">Standard Deviation (minutes)</text>
<text x="591.4" y="323.9" font-size="11.2" text-anchor="middle" font-weight="bold" fill="#000">Variability</text>
<text x="473.2" y="317.7" font-size="20.3" text-anchor="start" font-weight="normal" fill="#000">D</text>
</svg>
</body></html>
